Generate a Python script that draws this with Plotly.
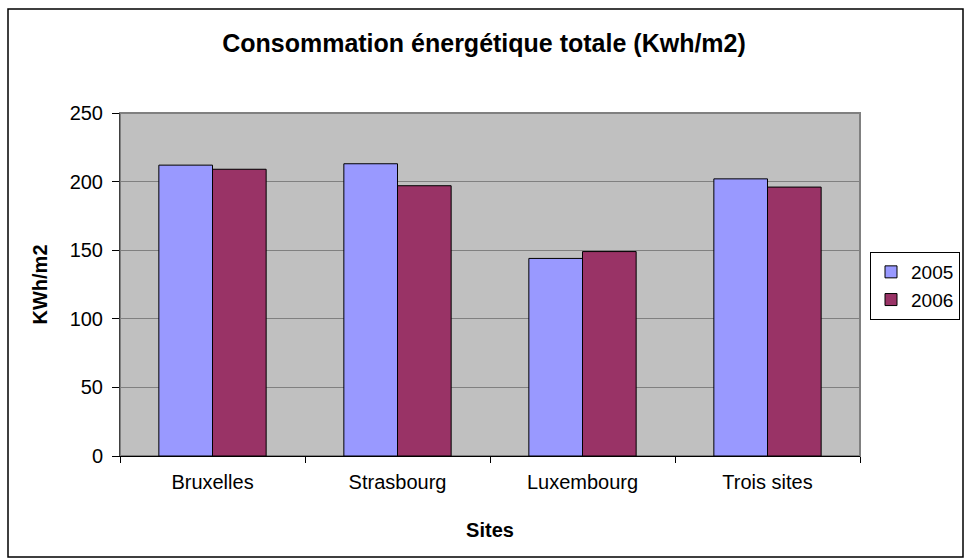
import plotly.graph_objects as go

sites = ["Bruxelles", "Strasbourg", "Luxembourg", "Trois sites"]
values_2005 = [212, 213, 144, 202]
values_2006 = [209, 197, 149, 196]
y_ticks = [0, 50, 100, 150, 200, 250]

W, H = 968, 559
L, R, T, B = 120, 860, 113, 456

fig = go.Figure()
fig.add_trace(go.Bar(name="2005", x=sites, y=values_2005,
                     marker=dict(color="#9999FF", line=dict(color="#000000", width=1))))
fig.add_trace(go.Bar(name="2006", x=sites, y=values_2006,
                     marker=dict(color="#993366", line=dict(color="#000000", width=1))))

font = "Liberation Sans, Arial, sans-serif"
fig.update_layout(
    width=W, height=H,
    margin=dict(l=L, r=W - R, t=T, b=H - B, pad=0, autoexpand=False),
    paper_bgcolor="white",
    plot_bgcolor="#C0C0C0",
    barmode="group",
    bargap=0.42,
    bargroupgap=0,
    font=dict(family=font, size=20, color="black"),
    title=dict(text="<b>Consommation énergétique totale (Kwh/m2)</b>",
               x=0.5, xanchor="center", y=1 - 43 / H, yanchor="middle",
               font=dict(size=25, family=font, color="black")),
    legend=dict(x=(870 - L) / (R - L), y=(B - 252) / (B - T), xanchor="left", yanchor="top",
                bordercolor="black", borderwidth=1, bgcolor="white",
                font=dict(size=19, family=font), itemwidth=30),
    showlegend=True,
)
fig.update_xaxes(
    showgrid=False, showline=True, linecolor="black", linewidth=1,
    ticks="outside", tickson="boundaries", ticklen=6, tickcolor="black",
    tickfont=dict(size=20, family=font), ticklabelstandoff=8,
    title=dict(text="<b>Sites</b>", font=dict(size=20, family=font), standoff=30),
)
fig.update_yaxes(
    range=[0, 250], tickvals=y_ticks, showgrid=True, gridcolor="#808080", gridwidth=1,
    showline=True, linecolor="#404040", linewidth=1,
    ticks="outside", ticklen=7, tickcolor="black",
    tickfont=dict(size=20, family=font), ticklabelstandoff=5,
    title=dict(text="<b>KWh/m2</b>", font=dict(size=20, family=font), standoff=16),
    zeroline=False,
)
# plot area border (gray) and outer chart frame
fig.add_shape(type="rect", xref="paper", yref="paper", x0=0, x1=1, y0=0, y1=1,
              line=dict(color="#808080", width=2), layer="below")
fig.add_shape(type="rect", xref="paper", yref="paper",
              x0=(8 - L) / (R - L), x1=(963 - L) / (R - L),
              y0=(B - 557) / (B - T), y1=(B - 9) / (B - T),
              line=dict(color="black", width=1.5))
fig.write_html("out.html", config={"displayModeBar": False},
               post_script="document.body.style.margin='0';document.body.style.overflow='hidden';")
